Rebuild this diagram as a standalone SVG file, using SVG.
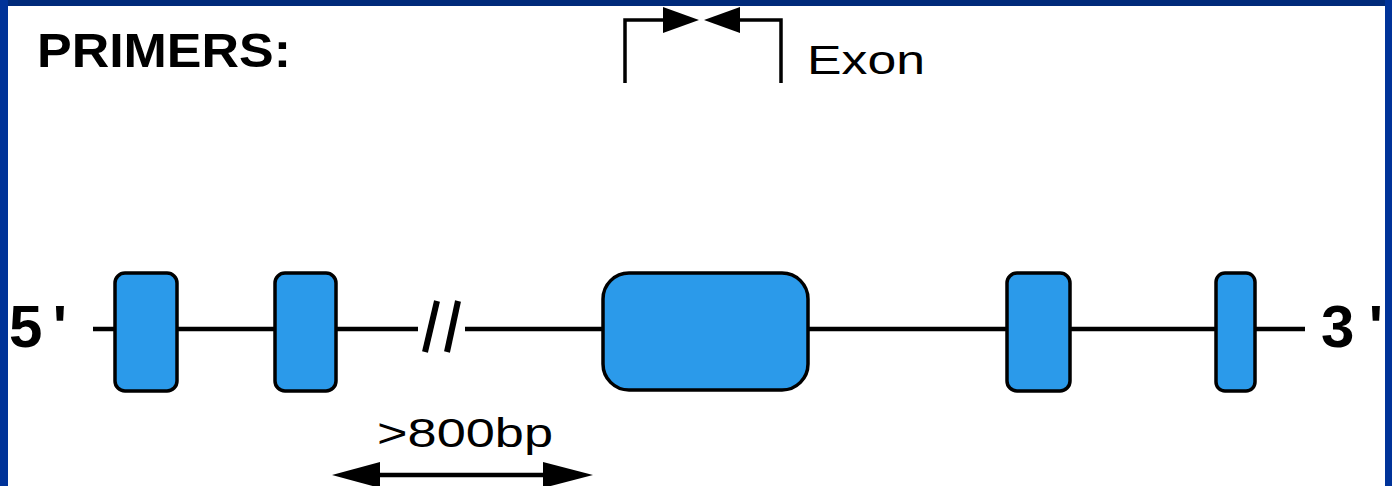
<svg xmlns="http://www.w3.org/2000/svg" width="1392" height="486" viewBox="0 0 1392 486">
<style>
.exon{fill:#2b9aea;stroke:#000;stroke-width:3.5}
.ln{stroke:#000;stroke-width:4.5;fill:none}
.br{stroke:#000;stroke-width:3.5;fill:none}
.tri{fill:#000}
.big{font-family:"Liberation Sans",Arial,sans-serif;font-weight:bold;fill:#000}
.lbl{font-family:"Liberation Sans",Arial,sans-serif;fill:#000}
</style>
<rect x="0" y="0" width="1392" height="486" fill="#ffffff"/>
<rect x="0" y="0" width="1392" height="6" fill="#002a7a"/>
<rect x="0" y="0" width="8" height="486" fill="#003399"/>
<rect x="1385" y="0" width="7" height="486" fill="#003399"/>
<g id="title"><text class="big" x="37" y="67" font-size="49" textLength="254" lengthAdjust="spacingAndGlyphs">PRIMERS:</text></g>
<g id="connectors">
<line class="ln" x1="93" y1="329" x2="418" y2="329"/>
<line class="ln" x1="465" y1="329" x2="1305" y2="329"/>
<line x1="437" y1="301" x2="425" y2="352" stroke="#000" stroke-width="6"/>
<line x1="458" y1="301" x2="447" y2="352" stroke="#000" stroke-width="6"/>
</g>
<g id="exon1"><rect class="exon" x="115" y="273" width="62" height="118" rx="10"/></g>
<g id="exon2"><rect class="exon" x="275" y="273" width="61" height="118" rx="10"/></g>
<g id="exon3"><rect class="exon" x="603" y="273" width="205" height="117" rx="26"/></g>
<g id="exon4"><rect class="exon" x="1007" y="273" width="63" height="118" rx="10"/></g>
<g id="exon5"><rect class="exon" x="1216" y="273" width="39" height="118" rx="9"/></g>
<g id="end5"><text class="big" x="9" y="347" font-size="60" textLength="58" lengthAdjust="spacing">5'</text></g>
<g id="end3"><text class="big" x="1321" y="347" font-size="60" textLength="62" lengthAdjust="spacing">3'</text></g>
<g id="primers">
<polyline class="br" points="625,83 625,20 665,20"/>
<polygon class="tri" points="663,7 663,33 699,20"/>
<polyline class="br" points="781,83 781,20 738,20"/>
<polygon class="tri" points="740,7 740,33 704,20"/>
<text class="lbl" x="807" y="74" font-size="41" textLength="118" lengthAdjust="spacingAndGlyphs">Exon</text>
</g>
<g id="distance">
<text class="lbl" x="377" y="447" font-size="41" textLength="176" lengthAdjust="spacingAndGlyphs">&gt;800bp</text>
<line class="ln" x1="375" y1="475" x2="550" y2="475"/>
<polygon class="tri" points="332,475 380,462 380,488"/>
<polygon class="tri" points="593,475 543,462 543,488"/>
</g>
</svg>
